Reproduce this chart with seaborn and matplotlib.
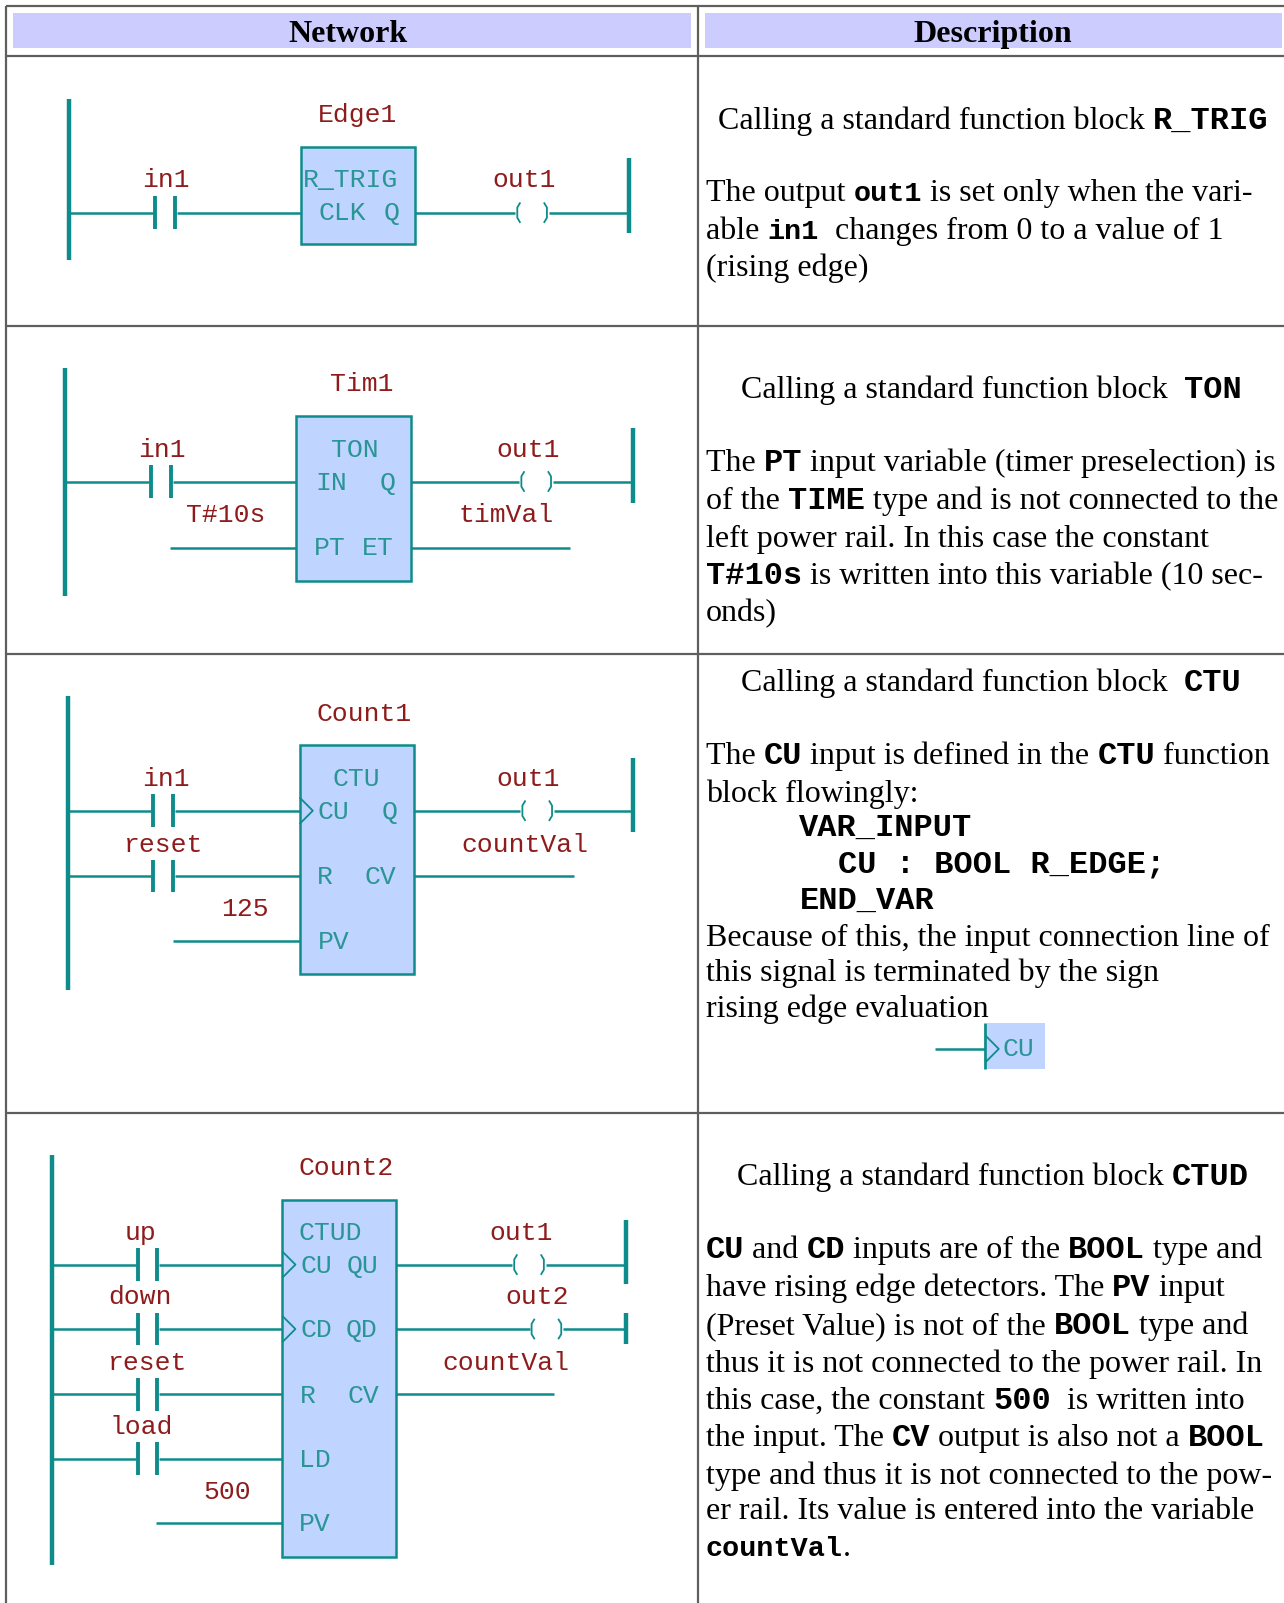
import matplotlib
matplotlib.use("Agg")
import matplotlib.pyplot as plt
from matplotlib.patches import Rectangle
import pandas as pd
import seaborn as sns

sns.set_theme(style="white")
plt.rcParams['font.family'] = ['Liberation Serif', 'DejaVu Sans']

W, H = 1284, 1603
TEAL = "#0E8C8C"
TEXT_TEAL = "#2A9595"
RED = "#8E1C1C"
FILL = "#BFD4FF"
HEAD = "#CCCCFF"
GRID = "#5E5E5E"
SERIF = "Liberation Serif"
MONO = "Liberation Mono"
BODY = 23
SMALL_CODE = 20.5
LAB = 19

headers = ["Network", "Description"]
row_lines = [6, 55, 319, 640, 1089]
col_lines = [6, 683]

# (x_left, y_top, y_bottom)
left_rails = [(67.5, 97, 254), (63.5, 360, 583), (67, 681, 968), (50.5, 1130, 1531)]
right_rails = [(615, 155, 228), (619, 419, 492), (619, 741, 814), (612, 1193, 1256), (612, 1284, 1315)]

# input rungs with a contact: (rail_x, contact_x, block_x, y)
contacts = [(67.5, 152, 294, 208), (63.5, 148, 290, 471),
            (67, 150, 293, 793), (67, 150, 293, 857),
            (50.5, 135, 276, 1237), (50.5, 135, 276, 1300),
            (50.5, 135, 276, 1364), (50.5, 135, 276, 1427)]
# outputs with a coil: (block_x, coil_x, rail_x, y)
coils = [(406, 506, 615, 208), (402, 510, 619, 471), (405, 511, 619, 793),
         (387, 503, 612, 1237), (387, 520, 612, 1300)]
# plain wires: (x0, x1, y)
plain = [(166, 290, 536), (402, 558, 536), (169, 293, 920), (405, 561, 857),
         (387, 542, 1364), (153, 276, 1490), (915, 964, 1026)]
# function blocks: (x0, x1, y0, y1)
blocks = [(294, 406, 144, 239), (290, 402, 407, 568), (293, 405, 729, 953), (276, 387, 1174, 1523)]
# rising edge marks: (x, y)
edges = [(293, 793), (276, 1237), (276, 1300), (964, 1026)]

var_labels = [("Edge1", 350, 111), ("in1", 162, 175), ("out1", 513, 175),
              ("Tim1", 354, 374), ("in1", 158, 439), ("out1", 517, 439),
              ("T#10s", 221, 503), ("timVal", 495, 503),
              ("Count1", 356, 697), ("in1", 162, 761), ("out1", 517, 761),
              ("reset", 160, 825), ("countVal", 513, 825), ("125", 240, 888),
              ("Count2", 339, 1141), ("up", 137, 1205), ("down", 137, 1268),
              ("reset", 144, 1332), ("load", 138, 1395), ("500", 222, 1458),
              ("out1", 510, 1205), ("out2", 525, 1268), ("countVal", 495, 1332)]
pin_labels = [("R_TRIG", 343, 175), ("CLK", 335, 207), ("Q", 383, 207),
              ("TON", 347, 439), ("IN", 324, 471), ("Q", 379, 471), ("PT", 323, 535), ("ET", 370, 535),
              ("CTU", 349, 761), ("CU", 326, 793), ("Q", 381, 793), ("R", 318, 857), ("CV", 372, 857), ("PV", 326, 920),
              ("CTUD", 323, 1205), ("CU", 309, 1237), ("QU", 355, 1237), ("CD", 309, 1300), ("QD", 354, 1300),
              ("R", 301, 1364), ("CV", 355, 1364), ("LD", 308, 1427), ("PV", 308, 1490),
              ("CU", 996, 1025)]

# description lines: (x, baseline, [(text, kind), ...]); kind 0 prose, 1 code, 2 smaller code
T, C, S = 0, 1, 2
desc = [
    (702, 126, [("Calling a standard function block ", T), ("R_TRIG", C)]),
    (690.5, 197, [("The output ", T), ("out1", S), (" is set only when the vari-", T)]),
    (690.5, 234, [("able ", T), ("in1", S), ("  changes from 0 to a value of 1", T)]),
    (690.5, 270, [("(rising edge)", T)]),
    (725, 389, [("Calling a standard function block  ", T), ("TON", C)]),
    (690.5, 461, [("The ", T), ("PT", C), (" input variable (timer preselection) is", T)]),
    (690.5, 498, [("of the ", T), ("TIME", C), (" type and is not connected to the", T)]),
    (690.5, 535, [("left power rail. In this case the constant", T)]),
    (690.5, 571, [("T#10s", C), (" is written into this variable (10 sec-", T)]),
    (690.5, 608, [("onds)", T)]),
    (725, 676, [("Calling a standard function block  ", T), ("CTU", C)]),
    (690.5, 747, [("The ", T), ("CU", C), (" input is defined in the ", T), ("CTU", C), (" function", T)]),
    (690.5, 784, [("block flowingly:", T)]),
    (782, 818, [("VAR_INPUT", C)]),
    (820, 853, [("CU : BOOL R_EDGE;", C)]),
    (782, 889, [("END_VAR", C)]),
    (690.5, 925, [("Because of this, the input connection line of", T)]),
    (690.5, 960, [("this signal is terminated by the sign", T)]),
    (690.5, 995, [("rising edge evaluation", T)]),
    (721, 1159, [("Calling a standard function block ", T), ("CTUD", C)]),
    (690.5, 1231, [("CU", C), (" and ", T), ("CD", C), (" inputs are of the ", T), ("BOOL", C), (" type and", T)]),
    (690.5, 1268, [("have rising edge detectors. The ", T), ("PV", C), (" input", T)]),
    (690.5, 1305, [("(Preset Value) is not of the ", T), ("BOOL", C), (" type and", T)]),
    (690.5, 1342, [("thus it is not connected to the power rail. In", T)]),
    (690.5, 1378, [("this case, the constant ", T), ("500", C), ("  is written into", T)]),
    (690.5, 1414, [("the input. The ", T), ("CV", C), (" output is also not a ", T), ("BOOL", C)]),
    (690.5, 1452, [("type and thus it is not connected to the pow-", T)]),
    (690.5, 1486, [("er rail. Its value is entered into the variable", T)]),
    (690.5, 1522, [("countVal", S), (".", T)]),
]

fig = plt.figure(figsize=(W / 100, H / 100), dpi=100, facecolor="white")
ax = fig.add_axes([0, 0, 1, 1])


def draw(segments, lw, color=TEAL):
    rows = [{"wire": i, "x": x, "y": y, "order": k}
            for i, seg in enumerate(segments) for k, (x, y) in enumerate(seg)]
    sns.lineplot(data=pd.DataFrame(rows), x="x", y="y", units="wire", estimator=None,
                 sort=False, color=color, linewidth=lw, ax=ax, legend=False,
                 solid_capstyle="butt", zorder=3)


# table
ax.add_patch(Rectangle((13, 13), 663, 34, fc=HEAD, ec="none"))
ax.add_patch(Rectangle((690, 13), 564, 34, fc=HEAD, ec="none"))
ax.text(340, 41, headers[0], family=SERIF, weight="bold", size=BODY, ha="center", va="baseline", color="black")
ax.text(971, 41, headers[1], family=SERIF, weight="bold", size=BODY, ha="center", va="baseline", color="black")
draw([[(6, y), (1256, y)] for y in row_lines] +
     [[(x, 6), (x, 1568)] for x in col_lines], 1.6, GRID)

# block bodies
for x0, x1, y0, y1 in blocks:
    ax.add_patch(Rectangle((x0, y0), x1 - x0, y1 - y0, fc=FILL, ec=TEAL, lw=1.8, zorder=2))
ax.add_patch(Rectangle((965, 1001), 57, 45, fc=FILL, ec="none", zorder=1))

# rails
draw([[(x, y0), (x, y1)] for x, y0, y1 in left_rails + right_rails], 3.2)
draw([[(964, 1001), (964, 1046)]], 2.0)

# rungs
wires, bars = [], []
for rail, cx, bx, y in contacts:
    wires += [[(rail, y), (cx - 2, y)], [(cx + 21, y), (bx, y)]]
    bars += [[(cx, y - 16), (cx, y + 16)], [(cx + 19, y - 16), (cx + 19, y + 16)]]
marks = []
for bx, cx, rail, y in coils:
    wires += [[(bx, y), (cx - 2, y)], [(cx + 31, y), (rail, y)]]
    marks += [[(cx + 3, y - 10), (cx, y - 5), (cx, y + 5), (cx + 3, y + 10)],
              [(cx + 26, y - 10), (cx + 29, y - 5), (cx + 29, y + 5), (cx + 26, y + 10)]]
for x0, x1, y in plain:
    wires.append([(x0, y), (x1, y)])
draw(wires, 1.8)
draw(bars, 2.8)
draw(marks, 1.3)
draw([[(x, y - 13), (x + 13, y), (x, y + 13)] for x, y in edges], 1.3)

# labels
for s, x, y in var_labels:
    ax.text(x, y + 8, s, family=MONO, size=LAB, color=RED, ha="center", va="baseline", zorder=4)
for s, x, y in pin_labels:
    ax.text(x, y + 8, s, family=MONO, size=LAB, color=TEXT_TEAL, ha="center", va="baseline", zorder=4)

ax.set_xlim(0, 1256)
ax.set_ylim(1568, 0)
ax.axis("off")

# description text, placed run after run
fig.canvas.draw()
renderer = fig.canvas.get_renderer()
px_to_unit = 1256 / W


def text_width(s, **kw):
    a = ax.text(0, 0, "x" + s + "x", **kw)
    b = ax.text(0, 0, "xx", **kw)
    w = a.get_window_extent(renderer).width - b.get_window_extent(renderer).width
    a.remove()
    b.remove()
    return w * px_to_unit


for x, base, runs in desc:
    for s, kind in runs:
        if kind == T:
            kw = dict(family=SERIF, size=BODY)
        else:
            kw = dict(family=MONO, weight="bold", size=BODY if kind == C else SMALL_CODE)
        ax.text(x, base, s, color="black", ha="left", va="baseline", **kw)
        x += text_width(s, **kw)

fig.savefig("out.png", dpi=100, facecolor="white")
